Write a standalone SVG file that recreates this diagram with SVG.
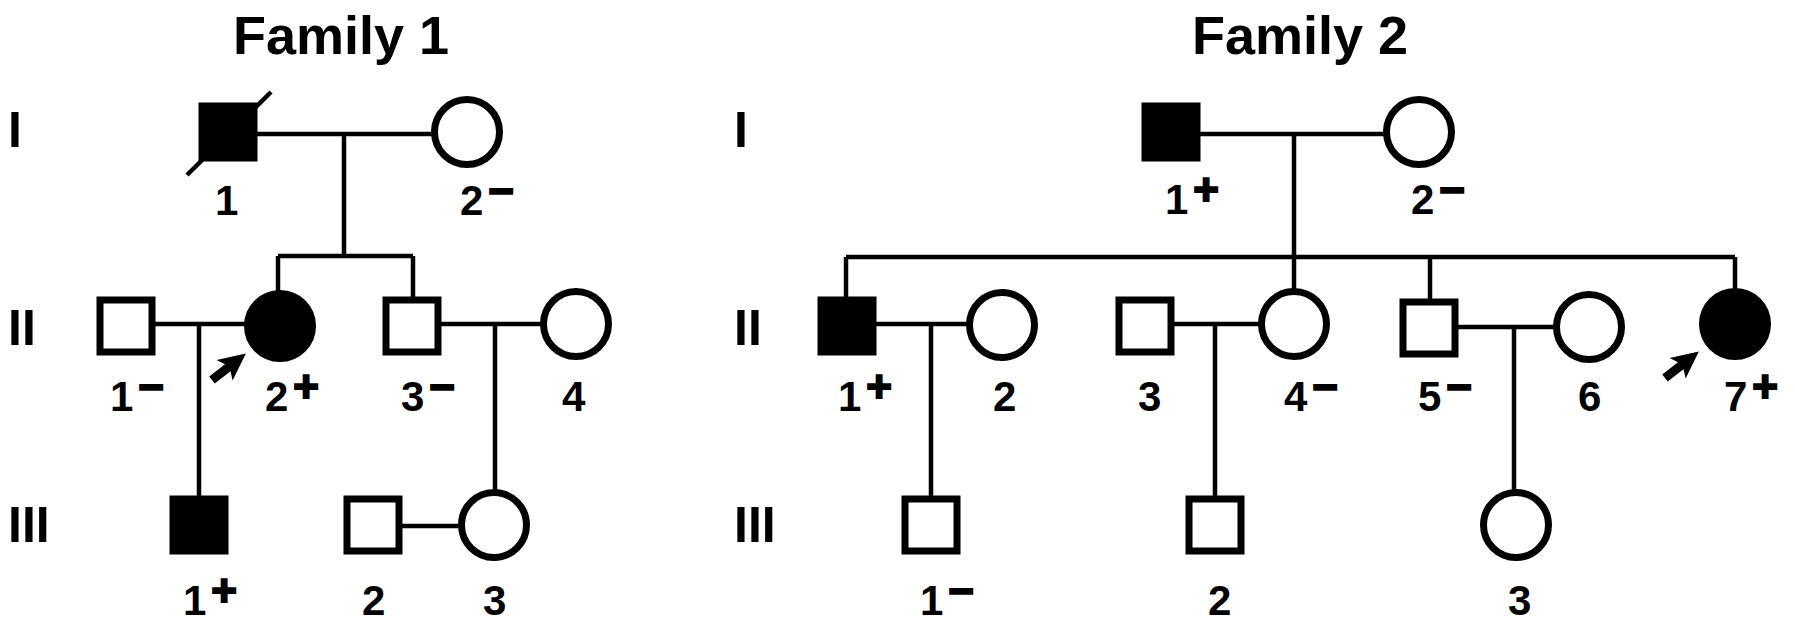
<svg xmlns="http://www.w3.org/2000/svg" width="1795" height="627" viewBox="0 0 1795 627">
<style>
.sq,.ci{fill:#fff;stroke:#000;stroke-width:7}
.sq.aff,.ci.aff{fill:#000}
.ln{stroke:#000;stroke-width:4.5;fill:none}
.t{font-family:"Liberation Sans",Arial,sans-serif;font-weight:bold;fill:#000}
.title{font-size:54px;text-anchor:middle}
.rn{font-size:50px}
.lbl{font-size:42px}
.sup{font-size:44px;stroke:#000;stroke-width:2}
</style>
<defs>
<path id="arrow" d="M0,-4.5 L20,-4.5 L16,-13 L43,0 L16,13 L20,4.5 L0,4.5 Z" fill="#000"/>
</defs>
<rect width="1795" height="627" fill="#fff"/>

<text class="t title" x="341" y="54">Family 1</text>
<text class="t title" x="1300" y="54">Family 2</text>

<g id="gen-labels">
<text class="t rn" x="8" y="147">I</text>
<text class="t rn" x="8" y="345">II</text>
<text class="t rn" x="8" y="542">III</text>
<text class="t rn" x="734" y="147">I</text>
<text class="t rn" x="734" y="345">II</text>
<text class="t rn" x="734" y="542">III</text>
</g>

<g id="connectors">
<!-- Family 1 -->
<line class="ln" x1="254" y1="134" x2="436" y2="134"/>
<line class="ln" x1="344" y1="134" x2="344" y2="256"/>
<line class="ln" x1="278" y1="256" x2="413" y2="256"/>
<line class="ln" x1="278" y1="256" x2="278" y2="294"/>
<line class="ln" x1="413" y1="256" x2="413" y2="300"/>
<line class="ln" x1="154" y1="324" x2="248" y2="324"/>
<line class="ln" x1="199" y1="324" x2="199" y2="499"/>
<line class="ln" x1="440" y1="324" x2="544" y2="324"/>
<line class="ln" x1="495" y1="324" x2="495" y2="494"/>
<line class="ln" x1="400" y1="526" x2="462" y2="526"/>
<!-- Family 2 -->
<line class="ln" x1="1197" y1="134" x2="1388" y2="134"/>
<line class="ln" x1="1294" y1="134" x2="1294" y2="257"/>
<line class="ln" x1="846" y1="257" x2="1735" y2="257"/>
<line class="ln" x1="846" y1="257" x2="846" y2="300"/>
<line class="ln" x1="1294" y1="257" x2="1294" y2="294"/>
<line class="ln" x1="1430" y1="257" x2="1430" y2="300"/>
<line class="ln" x1="1735" y1="257" x2="1735" y2="294"/>
<line class="ln" x1="873" y1="324" x2="971" y2="324"/>
<line class="ln" x1="931" y1="324" x2="931" y2="499"/>
<line class="ln" x1="1171" y1="324" x2="1264" y2="324"/>
<line class="ln" x1="1215" y1="324" x2="1215" y2="499"/>
<line class="ln" x1="1456" y1="327" x2="1558" y2="327"/>
<line class="ln" x1="1514" y1="327" x2="1514" y2="494"/>
</g>

<!-- Family 1 nodes -->
<g id="f1-I-1">
<rect class="sq aff" x="202" y="106" width="52" height="52"/>
<line class="ln" x1="187" y1="175" x2="271" y2="92"/>
<text class="t lbl" x="215" y="215">1</text>
</g>
<g id="f1-I-2">
<circle class="ci" cx="467" cy="132" r="32.5"/>
<text class="t lbl" x="460" y="215">2<tspan class="sup" dx="5" dy="-9">−</tspan></text>
</g>
<g id="f1-II-1">
<rect class="sq" x="100" y="300" width="52" height="52"/>
<text class="t lbl" x="110" y="411">1<tspan class="sup" dx="5" dy="-9">−</tspan></text>
</g>
<g id="f1-II-2">
<circle class="ci aff" cx="280" cy="326" r="32.5"/>
<use href="#arrow" transform="translate(212,380) rotate(-38)"/>
<text class="t lbl" x="265" y="411">2<tspan class="sup" dx="5" dy="-9">+</tspan></text>
</g>
<g id="f1-II-3">
<rect class="sq" x="386" y="300" width="52" height="52"/>
<text class="t lbl" x="401" y="411">3<tspan class="sup" dx="5" dy="-9">−</tspan></text>
</g>
<g id="f1-II-4">
<circle class="ci" cx="576" cy="324" r="32.5"/>
<text class="t lbl" x="562" y="411">4</text>
</g>
<g id="f1-III-1">
<rect class="sq aff" x="173" y="499" width="52" height="52"/>
<text class="t lbl" x="183" y="615">1<tspan class="sup" dx="5" dy="-9">+</tspan></text>
</g>
<g id="f1-III-2">
<rect class="sq" x="347" y="499" width="52" height="52"/>
<text class="t lbl" x="362" y="615">2</text>
</g>
<g id="f1-III-3">
<circle class="ci" cx="494" cy="525" r="32.5"/>
<text class="t lbl" x="483" y="615">3</text>
</g>

<!-- Family 2 nodes -->
<g id="f2-I-1">
<rect class="sq aff" x="1145" y="106" width="52" height="52"/>
<text class="t lbl" x="1165" y="214">1<tspan class="sup" dx="5" dy="-9">+</tspan></text>
</g>
<g id="f2-I-2">
<circle class="ci" cx="1419" cy="132" r="32.5"/>
<text class="t lbl" x="1411" y="214">2<tspan class="sup" dx="5" dy="-9">−</tspan></text>
</g>
<g id="f2-II-1">
<rect class="sq aff" x="821" y="300" width="52" height="52"/>
<text class="t lbl" x="838" y="411">1<tspan class="sup" dx="5" dy="-9">+</tspan></text>
</g>
<g id="f2-II-2">
<circle class="ci" cx="1002" cy="325" r="32.5"/>
<text class="t lbl" x="993" y="411">2</text>
</g>
<g id="f2-II-3">
<rect class="sq" x="1119" y="300" width="52" height="52"/>
<text class="t lbl" x="1138" y="411">3</text>
</g>
<g id="f2-II-4">
<circle class="ci" cx="1294" cy="324" r="32.5"/>
<text class="t lbl" x="1284" y="411">4<tspan class="sup" dx="5" dy="-9">−</tspan></text>
</g>
<g id="f2-II-5">
<rect class="sq" x="1403" y="302" width="52" height="52"/>
<text class="t lbl" x="1418" y="411">5<tspan class="sup" dx="5" dy="-9">−</tspan></text>
</g>
<g id="f2-II-6">
<circle class="ci" cx="1589" cy="327" r="32.5"/>
<text class="t lbl" x="1578" y="411">6</text>
</g>
<g id="f2-II-7">
<circle class="ci aff" cx="1735" cy="324" r="32.5"/>
<use href="#arrow" transform="translate(1665,378) rotate(-38)"/>
<text class="t lbl" x="1724" y="411">7<tspan class="sup" dx="5" dy="-9">+</tspan></text>
</g>
<g id="f2-III-1">
<rect class="sq" x="905" y="499" width="52" height="52"/>
<text class="t lbl" x="920" y="615">1<tspan class="sup" dx="5" dy="-9">−</tspan></text>
</g>
<g id="f2-III-2">
<rect class="sq" x="1189" y="499" width="52" height="52"/>
<text class="t lbl" x="1208" y="615">2</text>
</g>
<g id="f2-III-3">
<circle class="ci" cx="1516" cy="525" r="32.5"/>
<text class="t lbl" x="1508" y="615">3</text>
</g>
</svg>
